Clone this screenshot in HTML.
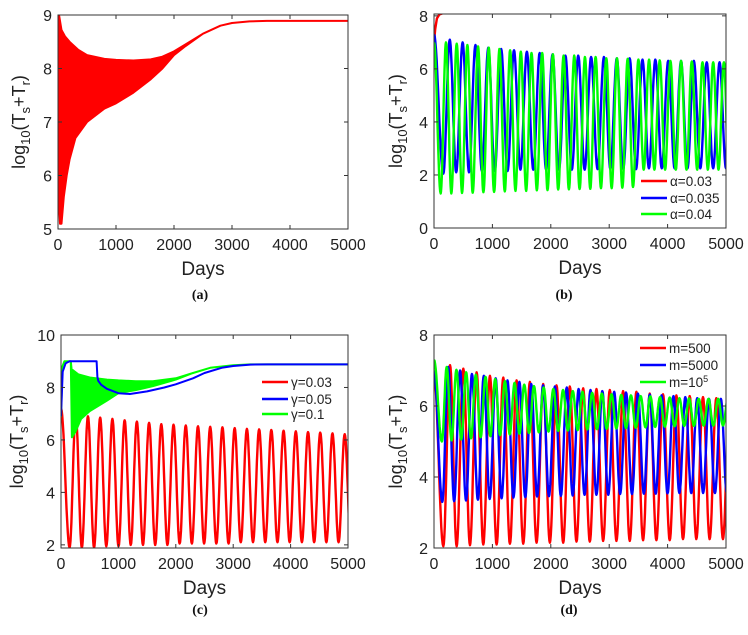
<!DOCTYPE html>
<html><head><meta charset="utf-8">
<style>
html,body{margin:0;padding:0;background:#fff;}
svg{display:block;font-family:"Liberation Sans",sans-serif;}
.tick{font-size:16px;fill:#222;}
.ylab{font-size:18px;fill:#222;}
.xlab{font-size:19px;fill:#222;}
.cap{font-family:"Liberation Serif",serif;font-weight:bold;font-size:14px;fill:#111;}
.leg{font-size:13.5px;fill:#222;}
</style></head>
<body>
<svg id="fig" width="748" height="635" viewBox="0 0 748 635" xmlns="http://www.w3.org/2000/svg"></svg>
<script>
// ---------- Data ----------
const aUpperDays = [0, 20, 60, 120, 200, 350, 500, 800, 1000, 1300, 1600, 1800, 2000, 2200, 2500, 2800, 3000, 3300, 3600, 5000];
const aUpperVals = [9.0, 8.98, 8.72, 8.6, 8.5, 8.35, 8.25, 8.18, 8.16, 8.15, 8.17, 8.22, 8.32, 8.45, 8.65, 8.8, 8.85, 8.88, 8.89, 8.89];
const aLowerDays = [0, 15, 35, 60, 100, 150, 200, 300, 500, 800, 1000, 1300, 1600, 1800, 2000, 2200, 2500, 2800, 3000, 3300, 3600, 5000];
const aLowerVals = [6.8, 5.5, 5.1, 5.1, 5.6, 6.0, 6.3, 6.7, 7.0, 7.25, 7.35, 7.55, 7.8, 8.0, 8.25, 8.42, 8.65, 8.8, 8.85, 8.88, 8.89, 8.89];

const bRedDays = [0, 20, 50, 90, 150, 5000];
const bRedVals = [7.0, 7.5, 7.9, 8.05, 8.1, 8.1];
const bBlueStart = 7.3, bBlueFirstTrough = 160, bBluePeriod = 220;
const bBlueTroughs = [2.05,2.1,2.1,2.15,2.15,2.15,2.2,2.2,2.2,2.2,2.2,2.2,2.22,2.22,2.22,2.22,2.25,2.25,2.25,2.25,2.25,2.25,2.25];
const bBluePeaks = [7.1,7.0,6.9,6.8,6.75,6.7,6.65,6.6,6.55,6.5,6.5,6.45,6.45,6.4,6.4,6.35,6.35,6.3,6.3,6.3,6.25,6.25,6.25];
const bGreenStart = 7.0, bGreenFirstTrough = 114, bGreenPeriod = 183;
const bGreenTroughs = [1.3,1.3,1.32,1.33,1.35,1.36,1.38,1.4,1.4,1.42,1.43,1.45,1.46,1.47,1.48,1.5,1.5,1.52,1.55,2.2,2.2,2.2,2.2,2.2,2.2,2.2,2.2,1.55];
const bGreenPeaks = [7.0,6.95,6.9,6.85,6.8,6.75,6.7,6.65,6.6,6.6,6.55,6.5,6.5,6.45,6.45,6.4,6.4,6.38,6.35,6.35,6.32,6.3,6.3,6.28,6.25,6.25,6.25,6.25];

const cRedStart = 7.2, cRedFirstTrough = 150, cRedPeriod = 213;
const cRedTroughs = [1.9,1.9,1.9,1.95,1.95,2.0,2.0,2.0,2.0,2.05,2.05,2.05,2.05,2.05,2.1,2.1,2.1,2.1,2.1,2.1,2.1,2.1,2.1,2.1];
const cRedPeaks = [6.95,6.9,6.85,6.8,6.75,6.7,6.65,6.6,6.58,6.55,6.52,6.5,6.48,6.45,6.42,6.4,6.38,6.35,6.33,6.3,6.28,6.25,6.22,6.2];
const cBlueDays = [0, 30, 80, 150, 620, 635, 650, 700, 800, 1000, 1200, 1500, 1800, 2000, 2300, 2500, 2800, 3000, 3300, 3600, 5000];
const cBlueVals = [6.9, 8.6, 8.92, 9.0, 9.0, 8.4, 8.25, 8.1, 7.95, 7.78, 7.75, 7.85, 8.0, 8.12, 8.35, 8.55, 8.75, 8.82, 8.87, 8.88, 8.88];
const cGreenUpperDays = [0, 25, 60, 170, 185, 300, 500, 800, 1000, 1300, 1600, 2000, 2300, 2600, 3000, 3300, 5000];
const cGreenUpperVals = [6.9, 8.8, 9.0, 9.0, 8.7, 8.5, 8.38, 8.3, 8.27, 8.24, 8.24, 8.35, 8.55, 8.75, 8.85, 8.88, 8.88];
const cGreenLowerDays = [0, 25, 60, 170, 190, 250, 350, 500, 800, 1000, 1300, 1600, 2000, 2300, 2600, 3000, 3300, 5000];
const cGreenLowerVals = [6.9, 8.8, 9.0, 9.0, 6.1, 6.3, 6.8, 7.1, 7.5, 7.78, 7.9, 8.05, 8.3, 8.55, 8.75, 8.85, 8.88, 8.88];

const dRedStart = 6.9, dRedFirstTrough = 160, dRedPeriod = 228;
const dRedTroughs = [2.05,2.05,2.08,2.1,2.1,2.12,2.12,2.15,2.15,2.15,2.18,2.18,2.2,2.2,2.2,2.22,2.22,2.22,2.25,2.25,2.25,2.25];
const dRedPeaks = [7.15,7.05,6.95,6.85,6.8,6.72,6.68,6.62,6.58,6.55,6.5,6.48,6.45,6.42,6.4,6.35,6.33,6.3,6.28,6.25,6.22,6.2];
const dBlueStart = 7.0, dBlueFirstTrough = 142, dBluePeriod = 203;
const dBlueTroughs = [3.3,3.32,3.34,3.36,3.38,3.4,3.42,3.43,3.45,3.46,3.47,3.48,3.5,3.5,3.5,3.52,3.52,3.53,3.53,3.54,3.55,3.55,3.55,3.55,3.55];
const dBluePeaks = [7.1,7.0,6.9,6.85,6.78,6.72,6.68,6.62,6.58,6.55,6.52,6.48,6.45,6.42,6.4,6.38,6.35,6.32,6.3,6.28,6.25,6.22,6.2,6.2,6.2];
const dGreenStart = 7.3, dGreenFirstTrough = 135, dGreenPeriod = 166;
const dGreenTroughs = [5.0,5.03,5.06,5.09,5.12,5.15,5.18,5.2,5.22,5.24,5.26,5.28,5.3,5.31,5.32,5.34,5.35,5.36,5.37,5.38,5.39,5.4,5.41,5.42,5.43,5.44,5.44,5.45,5.45,5.45,5.45];
const dGreenPeaks = [7.1,7.02,6.95,6.88,6.82,6.76,6.7,6.65,6.6,6.56,6.52,6.48,6.45,6.42,6.4,6.37,6.35,6.33,6.31,6.3,6.28,6.27,6.25,6.24,6.22,6.21,6.2,6.2,6.2,6.2,6.2];

const xTicks = [0, 1000, 2000, 3000, 4000, 5000];

// ---------- Rendering ----------
const NS = "http://www.w3.org/2000/svg";
const svg = document.getElementById("fig");
function mk(tag, attrs, parent) {
  const e = document.createElementNS(NS, tag);
  for (const k in attrs) e.setAttribute(k, attrs[k]);
  (parent || svg).appendChild(e);
  return e;
}
const RED = "#ff0000", BLUE = "#0000ff", GREEN = "#00ff00";

function makePanel(id, L, R, T, B, ymin, ymax, yTicks, captionX, captionY, ylabX) {
  const g = mk("g", {});
  
  
  const sx = d => L + (d - 0) / 5000 * (R - L);
  const sy = v => B - (v - ymin) / (ymax - ymin) * (B - T);
  const cp = mk("clipPath", { id: "clip-" + id }, g);
  mk("rect", { x: L, y: T, width: R - L, height: B - T }, cp);
  const plot = mk("g", { "clip-path": "url(#clip-" + id + ")" }, g);
  
  
  const axes = mk("g", {}, g);
  
  
  mk("rect", { x: L, y: T, width: R - L, height: B - T, fill: "none", stroke: "#333", "stroke-width": 1 }, axes);
  xTicks.forEach(t => {
    const x = sx(t);
    mk("line", { x1: x, y1: B, x2: x, y2: B - 4, stroke: "#333" }, axes);
    mk("line", { x1: x, y1: T, x2: x, y2: T + 4, stroke: "#333" }, axes);
    const tx = mk("text", { x: x, y: B + 21, "text-anchor": "middle", class: "tick" }, axes);
    tx.textContent = t;
    
    
  });
  yTicks.forEach(t => {
    const y = sy(t);
    mk("line", { x1: L, y1: y, x2: L + 4, y2: y, stroke: "#333" }, axes);
    mk("line", { x1: R, y1: y, x2: R - 4, y2: y, stroke: "#333" }, axes);
    const ty = mk("text", { x: L - 6, y: y + 6, "text-anchor": "end", class: "tick" }, axes);
    ty.textContent = t;
    
    
  });
  const xl = mk("text", { x: (L + R) / 2, y: B + 46, "text-anchor": "middle", class: "xlab" }, g);
  xl.textContent = "Days";
  
  
  const cy = (T + B) / 2;
  const yl = mk("text", { x: ylabX, y: cy, "text-anchor": "middle", class: "ylab", transform: "rotate(-90 " + ylabX + " " + cy + ")" }, g);
  yl.innerHTML = 'log<tspan font-size="13" dy="5">10</tspan><tspan dy="-5">(T</tspan><tspan font-size="13" dy="5">s</tspan><tspan dy="-5">+T</tspan><tspan font-size="13" dy="5">r</tspan><tspan dy="-5">)</tspan>';
  
  
  const cap = mk("text", { x: captionX, y: captionY, "text-anchor": "middle", class: "cap" }, g);
  cap.textContent = "(" + id + ")";
  
  
  return { g, plot, sx, sy, L, R, T, B };
}

function linePts(p, days, vals) {
  return days.map((d, i) => p.sx(d).toFixed(1) + "," + p.sy(vals[i]).toFixed(1)).join(" ");
}
function drawLine(p, days, vals, color, name, w) {
  const e = mk("polyline", { points: linePts(p, days, vals), fill: "none", stroke: color, "stroke-width": w || 2.2, "stroke-linejoin": "round" }, p.plot);
  
  
}
function drawBand(p, upD, upV, loD, loV, color, name) {
  const pts = linePts(p, upD, upV) + " " + loD.map((d, i) => p.sx(d).toFixed(1) + "," + p.sy(loV[i]).toFixed(1)).reverse().join(" ");
  const e = mk("polygon", { points: pts, fill: color, stroke: color, "stroke-width": 2, "stroke-linejoin": "round" }, p.plot);
  
  
}
function drawOsc(p, start, t0, period, troughs, peaks, color, name) {
  const ext = [[0, start]];
  for (let i = 0; i < troughs.length; i++) {
    ext.push([t0 + i * period, troughs[i]]);
    if (i < peaks.length) ext.push([t0 + i * period + period / 2, peaks[i]]);
  }
  const days = [], vals = [];
  for (let k = 0; k < ext.length - 1; k++) {
    const [d0, v0] = ext[k], [d1, v1] = ext[k + 1];
    if (d0 > 5000) break;
    const n = 14;
    for (let j = 0; j < n; j++) {
      const u = j / n;
      const f = (1 - Math.cos(Math.PI * u)) / 2;
      days.push(d0 + (d1 - d0) * u);
      vals.push(v0 + (v1 - v0) * f);
    }
  }
  const last = ext[ext.length - 1];
  days.push(last[0]); vals.push(last[1]);
  drawLine(p, days, vals, color, name, 2.4);
}
function legend(p, x, ys, labels, colors, id) {
  const lg = mk("g", {}, p.g);
  
  
  labels.forEach((lab, i) => {
    const en = mk("g", {}, lg);
    
    
    mk("line", { x1: x, y1: ys[i], x2: x + 26, y2: ys[i], stroke: colors[i], "stroke-width": 2.5 }, en);
    const t = mk("text", { x: x + 29, y: ys[i] + 5, class: "leg" }, en);
    t.innerHTML = lab;
  });
}

const pa = makePanel("a", 58, 348, 15, 229, 5, 9, [5, 6, 7, 8, 9], 200, 299, 25);
drawBand(pa, aUpperDays, aUpperVals, aLowerDays, aLowerVals, RED, "series-a-envelope");

const pb = makePanel("b", 434, 726, 14, 228, 0, 8.07, [0, 2, 4, 6, 8], 564, 299, 402);
drawLine(pb, bRedDays, bRedVals, RED, "series-alpha-0.03", 2.4);
drawOsc(pb, bBlueStart, bBlueFirstTrough, bBluePeriod, bBlueTroughs, bBluePeaks, BLUE, "series-alpha-0.035");
drawOsc(pb, bGreenStart, bGreenFirstTrough, bGreenPeriod, bGreenTroughs, bGreenPeaks, GREEN, "series-alpha-0.04");
legend(pb, 641, [181, 198, 214], ["α=0.03", "α=0.035", "α=0.04"], [RED, BLUE, GREEN], "b");

const pc = makePanel("c", 61, 348, 335, 548, 1.88, 10, [2, 4, 6, 8, 10], 200, 614, 23);
drawOsc(pc, cRedStart, cRedFirstTrough, cRedPeriod, cRedTroughs, cRedPeaks, RED, "series-gamma-0.03");
drawBand(pc, cGreenUpperDays, cGreenUpperVals, cGreenLowerDays, cGreenLowerVals, GREEN, "series-gamma-0.1");
drawLine(pc, cBlueDays, cBlueVals, BLUE, "series-gamma-0.05", 2);
legend(pc, 262, [382, 399, 414], ["γ=0.03", "γ=0.05", "γ=0.1"], [RED, BLUE, GREEN], "c");

const pd = makePanel("d", 434, 726, 335, 548, 2, 8, [2, 4, 6, 8], 569, 614, 402);
drawOsc(pd, dRedStart, dRedFirstTrough, dRedPeriod, dRedTroughs, dRedPeaks, RED, "series-m-500");
drawOsc(pd, dBlueStart, dBlueFirstTrough, dBluePeriod, dBlueTroughs, dBluePeaks, BLUE, "series-m-5000");
drawOsc(pd, dGreenStart, dGreenFirstTrough, dGreenPeriod, dGreenTroughs, dGreenPeaks, GREEN, "series-m-1e5");
legend(pd, 640, [348, 365, 382], ["m=500", "m=5000", 'm=10<tspan font-size="9" dy="-5">5</tspan>'], [RED, BLUE, GREEN], "d");
</script>
</body></html>
